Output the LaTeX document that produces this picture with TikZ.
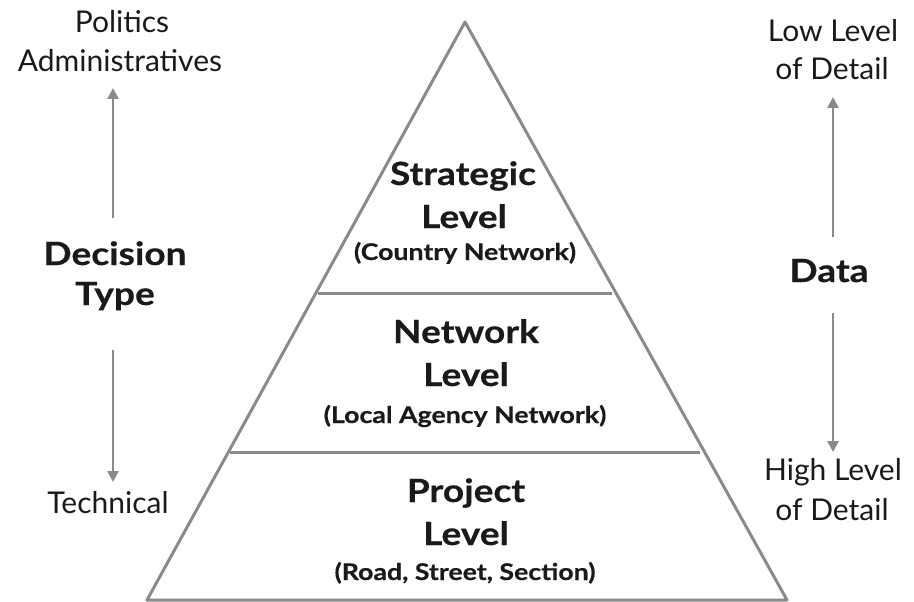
\documentclass[tikz,border=0pt]{standalone}
\usepackage{fontspec}
\setmainfont{Lato}
\newfontfamily\headfont{Lato}[FakeStretch=1.16, BoldFeatures={FakeBold=0.5}]
\usetikzlibrary{arrows.meta}
\definecolor{linegray}{HTML}{8A8A8A}
\definecolor{ink}{HTML}{1A1A1A}
\begin{document}
\begin{tikzpicture}[x=1pt,y=-1pt,
  edge/.style={draw=linegray,line width=3pt,line join=round},
  arrowline/.style={draw=linegray,line width=2.6pt,-{Triangle[length=11pt,width=11pt]}},
  plain/.style={text=ink,font=\fontsize{30}{36}\selectfont,anchor=base,inner sep=0pt},
  title/.style={text=ink,font=\headfont\bfseries\fontsize{32}{38}\selectfont,anchor=base,inner sep=0pt},
  sub/.style={text=ink,font=\headfont\bfseries\fontsize{23}{27}\selectfont,anchor=base,inner sep=0pt}]
\useasboundingbox (0,0) rectangle (914,602);

% pyramid outline and tier boundaries
\coordinate (apex) at (465,22);
\coordinate (bl) at (147,600);
\coordinate (br) at (787,600);
\coordinate (t1l) at (318,293);
\coordinate (t1r) at (612,293);
\coordinate (t2l) at (230,452);
\coordinate (t2r) at (700,452);
\draw[edge] (bl) -- (apex) -- (br) -- cycle;
\draw[edge] (t1l) -- (t1r);
\draw[edge] (t2l) -- (t2r);

% tier labels
\node[title] (strat1) at (463,185) {Strategic};
\node[title] (strat2) at (464,228) {Level};
\node[sub] (stratsub) at (465,260) {(Country Network)};
\node[title] (net1) at (466,343) {Network};
\node[title] (net2) at (466,386) {Level};
\node[sub] (netsub) at (465,423) {(Local Agency Network)};
\node[title] (proj1) at (466,502) {Project};
\node[title] (proj2) at (466,545) {Level};
\node[sub] (projsub) at (465,580) {(Road, Street, Section)};

% decision type axis
\node[plain] (pol1) at (122,33) {Politics};
\node[plain] (pol2) at (120,72) {Administratives};
\node[title] (dec1) at (115,265) {Decision};
\node[title] (dec2) at (115,305) {Type};
\node[plain] (tech) at (108,513) {Technical};
\coordinate (decup) at (113,88);
\coordinate (decdn) at (113,482);
\draw[arrowline] (113,218) -- (decup);
\draw[arrowline] (113,350) -- (decdn);

% data axis
\node[plain] (low1) at (833,42) {Low Level};
\node[plain] (low2) at (832,80) {of Detail};
\node[title] (data) at (829,282) {Data};
\node[plain] (high1) at (833,480) {High Level};
\node[plain] (high2) at (832,520) {of Detail};
\coordinate (dataup) at (833,97);
\coordinate (datadn) at (833,452);
\draw[arrowline] (833,237) -- (dataup);
\draw[arrowline] (833,313) -- (datadn);
\end{tikzpicture}
\end{document}
